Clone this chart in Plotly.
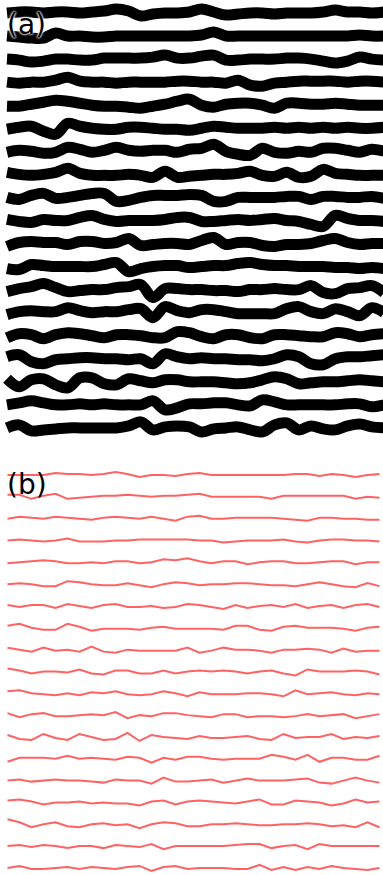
import plotly.graph_objects as go

# Vertical displacement (px, positive = up) of each contour line, sampled at 32 equally spaced columns
WAVES_A = [
    [0, 1, 1, 0, 1, 1, 0, 1, 2, 4, 2, -3, -1, 0, 0, 1, 4, 1, -2, -1, 0, 0, -1, 0, 0, 0, 1, 3, 1, 1, 0, 1],
    [0, -1, -2, -2, 3, 0, 0, -1, -1, 0, 0, 0, 0, 0, 0, 0, 1, 4, 0, 0, 0, 0, 0, 0, 0, 0, 0, 0, 0, 1, 0, 0],
    [0, -1, -3, -2, 0, 0, -1, -1, 1, 1, 1, 1, 2, 4, 1, 1, 3, 4, -1, -1, 0, 0, 0, 1, 1, 0, -2, -4, -2, 2, 0, -1],
    [0, -1, 0, 0, 2, 5, 1, 0, 0, -1, 0, 0, 0, 0, 1, 1, 0, 0, -1, 2, -3, -4, -1, 0, 1, 1, 1, 1, 0, 1, 1, 0],
    [-1, -1, 1, 3, 5, 4, 2, 0, -1, -1, -2, -3, -1, 1, 4, 6, 0, -2, 1, 2, 2, 0, -3, 2, 2, 1, 1, 2, 1, 0, 0, 0],
    [-1, 1, 2, -3, -6, 5, 2, 0, -1, -1, 1, 1, 0, -1, -1, -2, 0, 2, 1, 0, 0, 0, 1, 0, 1, 0, 1, 0, 1, 0, 0, 1],
    [-1, 1, 0, -2, -1, 4, 2, -1, 1, 4, 1, 0, 1, 1, -1, 2, 3, 7, 0, -3, -4, 3, -1, -2, 0, -1, 3, 3, 1, -1, 2, 0],
    [2, 0, -1, 0, 2, 6, 1, -1, -1, -1, 0, -1, -3, 3, -3, -2, -1, 0, 0, 1, 3, -1, -2, 2, -3, -2, 5, 1, 0, -1, -1, -1],
    [0, -2, 2, 4, -1, 0, 2, 4, 4, -4, -3, 0, 2, 2, 2, 3, 2, -4, -4, 0, 0, 0, 0, 1, 1, -2, 1, 1, 0, 0, 1, -1],
    [1, -1, -2, 1, 0, 0, 3, 5, 1, -1, 0, 0, 0, 1, 3, 3, -1, -1, 0, 1, 0, 1, 2, 0, -1, -4, -6, 5, 2, 0, 0, -1],
    [-3, 1, 2, 1, 1, -1, 2, 2, 0, 1, 5, -2, -1, 0, 0, -1, 3, 6, -1, 1, 1, -2, -3, -1, -1, 0, 3, 5, 1, -1, 0, 0],
    [-2, -3, 2, 1, 0, 0, 0, 0, 2, 4, -5, -2, 0, 1, 1, -1, 0, 1, 1, 3, 4, 2, 1, 1, 0, 0, 0, -1, -1, -2, -1, -2],
    [-2, 1, 3, 6, 2, -2, -1, 0, 0, 2, 3, 5, -8, 1, 1, 0, 0, -1, -1, -2, 0, 0, 1, 0, 0, 4, -3, -4, 1, 2, 4, -3],
    [-2, 1, 2, 1, 1, 5, 2, 0, 1, 1, 3, 4, -5, 6, 2, 0, 3, 3, 1, -1, -1, -1, -1, 4, 6, 1, -1, 4, 1, -3, 5, 0],
    [-2, 2, 1, -3, 1, 3, 2, 0, -2, 1, 1, 0, -2, -2, 4, 3, -1, -3, 1, 1, -2, -3, 1, 1, 0, -1, -1, 3, 2, -1, 1, 2],
    [2, 4, -3, -5, -1, 0, 1, 1, 0, 0, -1, 0, -5, 5, 2, 0, 1, 0, 0, -1, -1, -2, 0, 4, 2, -5, -6, 0, 2, 2, 3, 4],
    [3, -5, 2, 3, -3, -6, 4, 4, -2, -3, 3, 1, -1, 2, 2, 0, 0, 0, -1, -2, -1, 2, 5, 3, -2, -1, 0, 0, 1, 2, 1, 0],
    [0, 2, 4, 2, 0, 0, 1, 0, 1, 0, 0, 0, 4, -5, -3, 1, 1, 2, 2, 0, -1, 5, 3, 0, 0, 0, 0, 0, 1, 1, -2, 0],
    [0, 3, -3, -2, -1, 0, 0, 0, 0, 0, 2, 6, -2, 1, 2, 1, -4, -1, 0, 1, -2, -4, 3, 5, -2, 2, -1, -2, 2, 4, 1, 0],
]

WAVES_B = [
    [0, 0, 0, 0, 2, 1, 1, 0, 1, 3, 1, -2, 0, 0, -1, 1, 2, 0, 0, 0, 0, 0, 0, 0, 1, 1, -1, 1, 0, -2, 0, 1],
    [2, 2, -2, 1, 3, -2, -1, 0, 1, 1, 2, 1, 0, 1, 1, 2, 3, 0, 0, 0, 0, 0, -2, 1, 1, 1, 1, 1, 1, -2, 0, -1],
    [0, 2, 1, 0, 2, 1, 0, -1, 1, 2, 1, 0, 2, 0, -2, 2, 3, 0, 0, 1, 1, 1, 1, 0, -1, -2, 1, 1, 0, 0, -1, -1],
    [0, 1, 0, -1, 0, 2, -1, -1, -1, 0, 0, 1, 1, 1, 1, 1, 0, 0, -2, -1, 0, 0, 0, 1, -1, -2, 0, 1, 1, 0, 0, -1],
    [-1, 0, 1, 2, 1, -1, -1, 0, -1, 1, 1, -1, 0, 3, 2, 4, 1, -1, 1, 1, -2, 0, 1, 1, -1, -1, 0, 1, 1, -2, 0, 0],
    [0, 1, 0, -2, -2, 3, 2, 0, -1, -1, 1, -1, -3, 0, 2, 1, -1, 0, 0, 1, 1, 0, -1, -1, -2, 0, 2, 0, -2, -3, 1, -2],
    [1, -1, 1, 1, -2, 2, 0, -2, 1, 2, -1, -1, 0, -2, -1, 2, 1, -1, -3, 1, -2, 0, 1, -1, 2, -2, 0, 1, -2, 1, 2, -1],
    [2, 4, 0, -2, -2, 4, 1, -3, -1, -1, -1, -2, 0, 1, -1, -1, -1, -1, -2, 2, 2, -2, -3, 1, 2, 0, 0, 0, -1, -3, 0, 1],
    [2, 0, -2, 2, -1, 0, -2, 3, -2, -3, 0, -1, -1, -1, -1, 2, -3, -1, 2, 0, 0, -1, -3, 0, 0, 1, 0, -3, 1, -2, -1, -1],
    [3, 1, -2, 0, 0, -1, 2, -2, -3, 1, 1, -2, -2, 1, -2, 0, 1, 0, 1, 0, -2, 0, 1, -2, -4, 2, 0, 0, 0, 1, 0, -3],
    [2, 3, 0, -1, -2, 0, -2, 1, 0, 2, -1, -2, -1, 2, 0, -3, 1, -1, -1, -1, 0, 0, -1, -3, 3, -1, 0, 1, -1, -2, 0, -1],
    [2, -2, 1, 2, -1, -1, 0, 1, 0, 3, -3, 0, -1, 2, 2, 0, -1, -2, 1, 1, -2, -1, -1, -2, -1, 1, -1, 0, 1, -3, -1, 1],
    [2, -2, -3, 3, -1, -3, 3, 0, -3, -2, 4, -4, 2, 0, -1, -2, 1, -1, -1, 0, 1, -2, -3, 3, -1, 0, 0, 3, -2, 0, -1, 1],
    [-3, 1, 1, 1, 0, 3, 0, 1, 0, -1, 2, 1, -4, 1, -1, 2, 2, 0, -1, 0, 0, 0, 4, 2, -1, 4, -3, 1, 1, -1, -1, 3],
    [0, 1, -1, 0, 1, 0, 0, -1, -2, 1, 0, 0, -3, 3, -1, -1, 0, 1, -2, 0, 2, 0, 0, 0, 1, 2, -2, -3, 0, 3, 0, -2],
    [2, 3, 1, -2, 0, 0, 1, -1, 0, -1, -1, -3, 1, 2, -2, 1, 2, 1, 0, -1, 1, 3, -2, -2, 2, 1, 0, -3, -1, 3, 0, 1],
    [5, 2, -3, 0, 2, -2, -3, 0, 1, -1, 0, -4, 0, 2, 1, -2, -2, 0, 0, 1, 0, -1, -1, 0, 0, 1, 0, -2, -1, -3, 2, -3],
    [0, 1, -1, 1, 0, -2, 0, 0, -2, 1, 0, -1, 2, -3, 0, 0, 0, 0, 0, 1, 2, 2, -2, 0, 1, -3, 2, 0, 0, 0, 0, 0],
    [0, 2, -1, -1, 0, 1, -1, 1, 0, -1, 1, 2, -3, 1, 2, -1, 0, 0, 0, -1, -1, 3, -2, 1, -2, 1, -1, 2, 0, -1, -2, 0],
]

LABELS = ["(a)", "(b)"]

W, H = 383, 875
# layout of the two panels (pixel space)
PANEL_A = dict(x0=7, x1=384, y0=13, dy=23.05, color="black", width=11, shape="spline")
PANEL_B = dict(x0=7.5, x1=379.5, y0=475, dy=21.83, color="rgb(255,98,98)", width=2, shape="linear")

fig = go.Figure()


def add_panel(waves, p):
    for i, w in enumerate(waves):
        n = len(w)
        step = (p["x1"] - p["x0"]) / (n - 1)
        xs = [p["x0"] + k * step for k in range(n)]
        base = p["y0"] + i * p["dy"]
        ys = [base - v for v in w]
        fig.add_trace(go.Scatter(
            x=xs, y=ys, mode="lines",
            line=dict(color=p["color"], width=p["width"], shape=p["shape"]),
            hoverinfo="skip", showlegend=False,
        ))


add_panel(WAVES_A, PANEL_A)
add_panel(WAVES_B, PANEL_B)

fig.add_annotation(x=5, y=24, text=LABELS[0], showarrow=False, xanchor="left", yanchor="middle",
                   font=dict(family="DejaVu Sans", size=28, color="black",
                             shadow="0 0 2px white, 0 0 2px white, 0 0 3px white"))
fig.add_annotation(x=5, y=484, text=LABELS[1], showarrow=False, xanchor="left", yanchor="middle",
                   font=dict(family="DejaVu Sans", size=28, color="black"))

fig.update_xaxes(range=[0, W], visible=False, fixedrange=True)
fig.update_yaxes(range=[H, 0], visible=False, fixedrange=True)
fig.update_layout(width=W, height=H, margin=dict(l=0, r=0, t=0, b=0),
                  paper_bgcolor="white", plot_bgcolor="white")

fig.write_html("out.html")
